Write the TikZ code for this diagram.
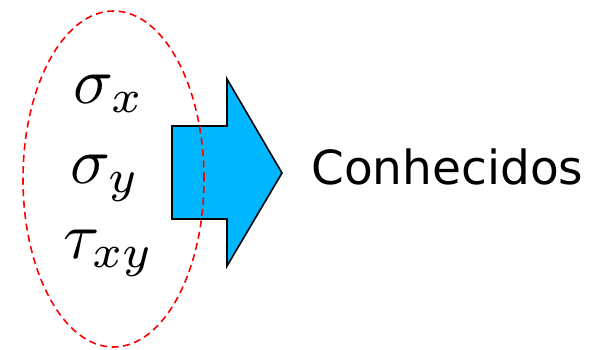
\documentclass[tikz,border=0pt]{standalone}
\usepackage{fontspec}
\usetikzlibrary{shapes.geometric}
\newfontfamily\verd{DejaVu Sans}
\definecolor{arrowblue}{RGB}{0,183,255}
\begin{document}
\begin{tikzpicture}[x=1pt,y=1pt,
  mathlbl/.style={anchor=base west,inner sep=0pt,scale=6.6,transform shape},
  bigarrow/.style={draw=black,line width=1.6pt,fill=arrowblue,line join=miter},
  ring/.style={draw=red,line width=1.6pt,dash pattern=on 7pt off 4.5pt,ellipse,inner sep=0pt}]
\useasboundingbox (0,0) rectangle (592,349);
\draw[bigarrow] (172,223) -- (227,223) -- (227,270) -- (282,176) -- (227,83) -- (227,130) -- (172,130) -- cycle;
\node[mathlbl] (sx) at (72,246) {$\sigma_x$};
\node[mathlbl] (sy) at (69,166) {$\sigma_y$};
\node[mathlbl] (txy) at (62,91) {$\tau_{xy}$};
\node[ring,minimum width=181pt,minimum height=336pt] (e) at (113.5,170) {};
\node[anchor=west,inner sep=0pt,font=\verd\fontsize{47}{50}\selectfont] (c) at (311,182) {Conhecidos};
\end{tikzpicture}
\end{document}
